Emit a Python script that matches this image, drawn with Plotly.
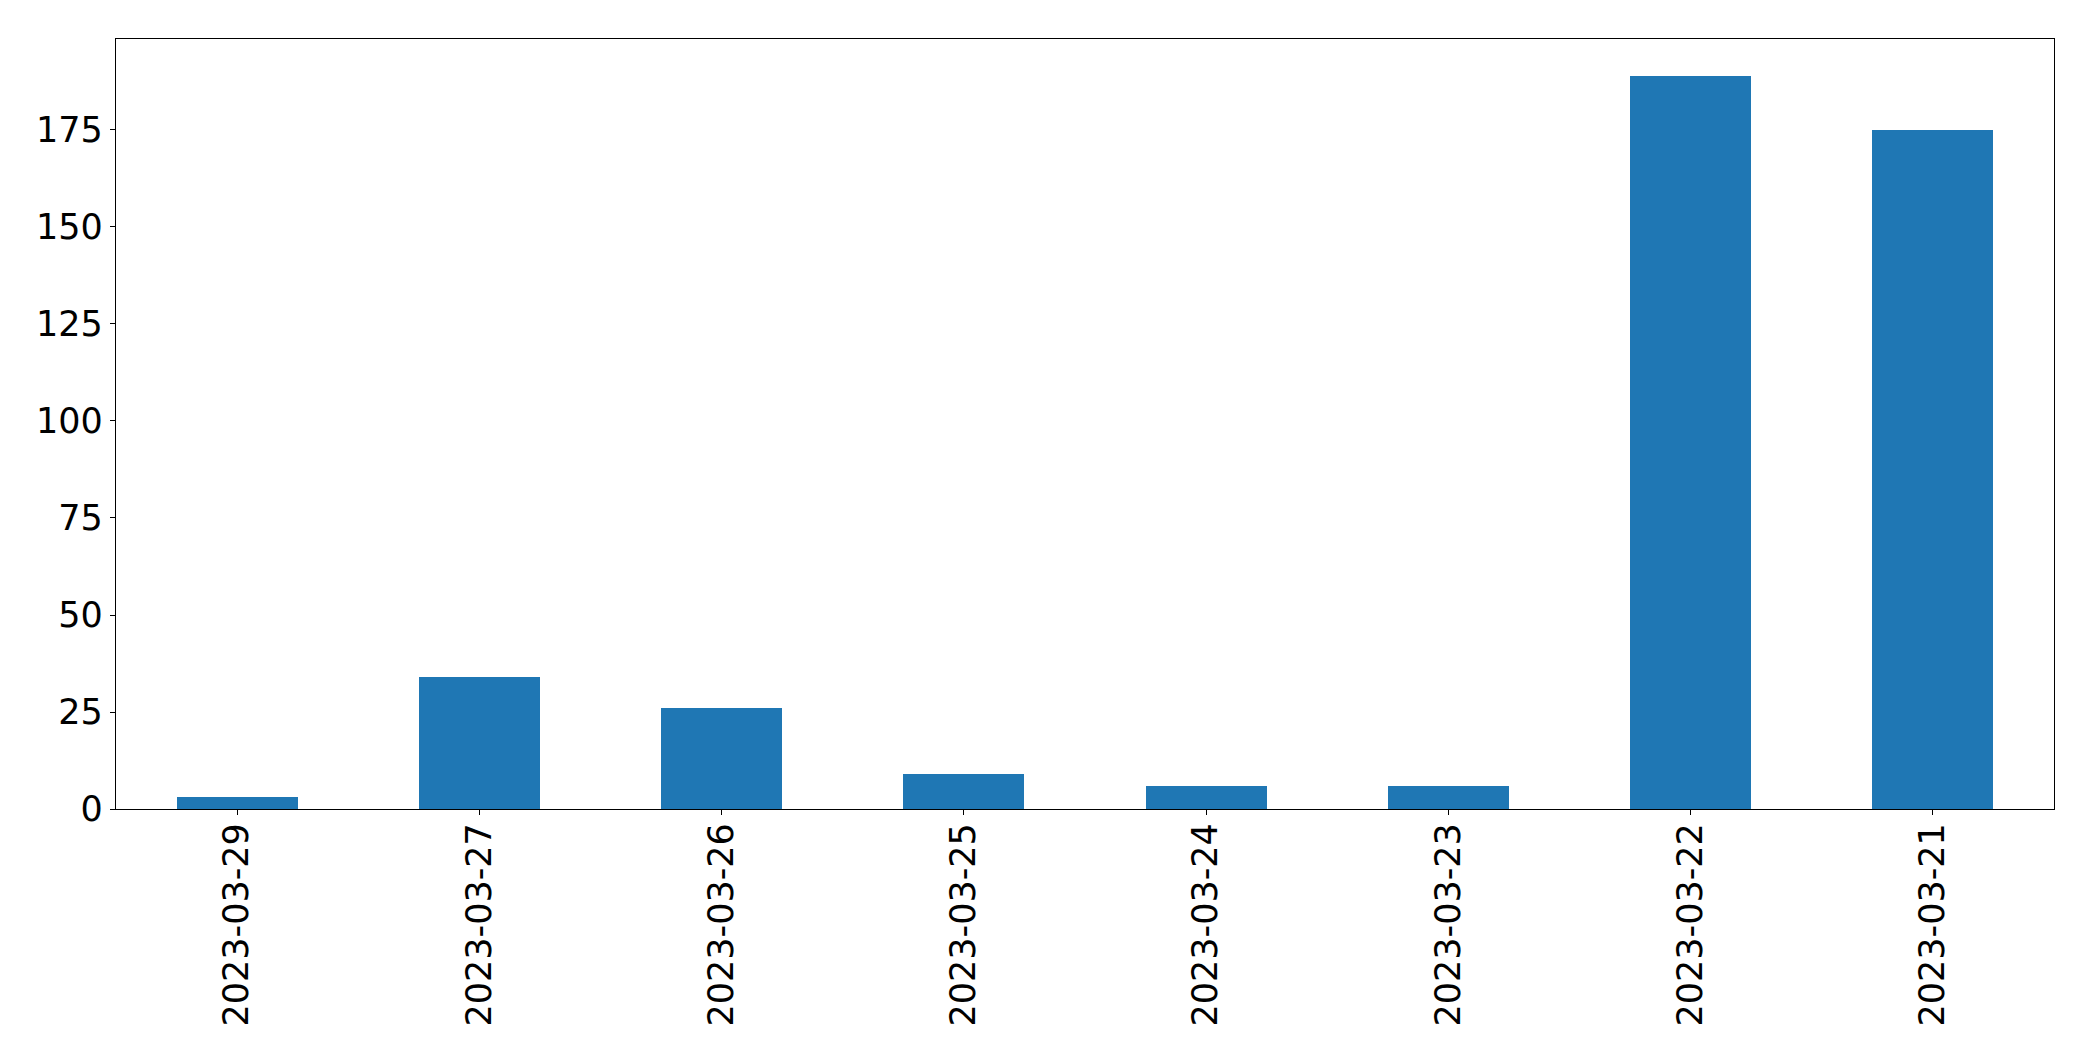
import plotly.graph_objects as go

# counts per day (newest first, as in the source)
dates = ["2023-03-29", "2023-03-27", "2023-03-26", "2023-03-25",
         "2023-03-24", "2023-03-23", "2023-03-22", "2023-03-21"]
counts = [3, 34, 26, 9, 6, 6, 189, 175]
y_ticks = [0, 25, 50, 75, 100, 125, 150, 175]

fig = go.Figure()

fig.add_trace(go.Bar(x=dates, y=counts,
                     marker=dict(color="#1f77b4", line=dict(width=0)),
                     width=0.5))

# page body has an 8px margin, so size the figure to fit inside it
fig.update_layout(
    width=2085,
    height=1053,
    margin=dict(l=108, r=39, t=31, b=252),
    plot_bgcolor="white",
    paper_bgcolor="white",
    showlegend=False,
    bargap=0,
    font=dict(family="DejaVu Sans", size=35, color="black"),
    xaxis=dict(
        type="category",
        range=[-0.5, len(dates) - 0.5],
        tickangle=-90,
        ticks="outside",
        ticklen=5,
        tickwidth=1.3,
        tickcolor="black",
        ticklabelstandoff=-6,
        showline=True,
        linecolor="black",
        linewidth=1.3,
        mirror=True,
        showgrid=False,
        zeroline=False,
    ),
    yaxis=dict(
        range=[0, max(counts) * 1.05],
        tickvals=y_ticks,
        ticks="outside",
        ticklen=5,
        tickwidth=1.3,
        tickcolor="black",
        showline=True,
        linecolor="black",
        linewidth=1.3,
        mirror=True,
        showgrid=False,
        zeroline=False,
    ),
)

fig.write_html("out.html")
